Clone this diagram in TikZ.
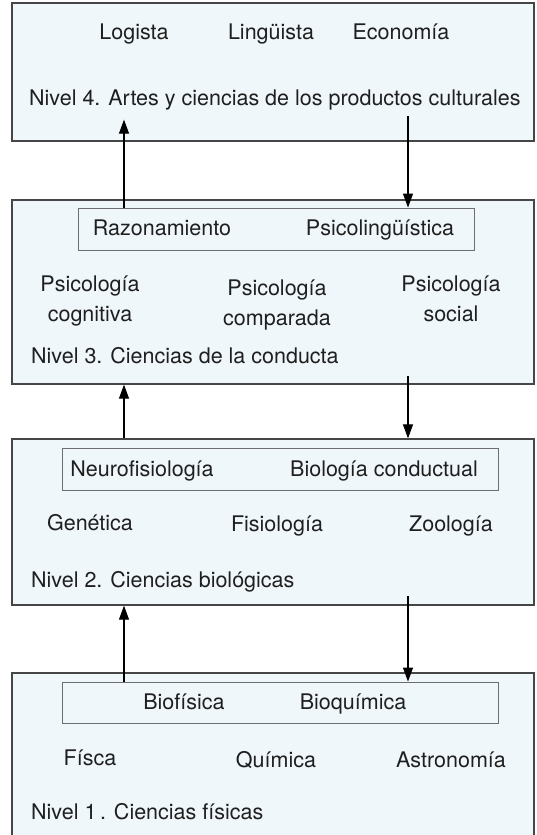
\documentclass[tikz,border=0pt]{standalone}
\usepackage{fontspec}
\setmainfont{TeX Gyre Heros}
\usetikzlibrary{arrows.meta,calc}
\definecolor{boxfill}{RGB}{239,247,251}
\definecolor{boxline}{RGB}{70,70,70}
\definecolor{innerline}{RGB}{110,110,110}
\begin{document}
\begin{tikzpicture}[x=1pt,y=-1pt,
  outer/.style={draw=boxline,line width=1.3pt,fill=boxfill,inner sep=0pt,anchor=center},
  inner/.style={draw=innerline,line width=0.9pt,inner sep=0pt,anchor=center},
  lbl/.style={anchor=base,inner sep=0pt,font=\fontsize{21.5}{30}\selectfont,text=black!88,align=center},
  lvl/.style={anchor=base west,inner sep=0pt,font=\fontsize{21.5}{30}\selectfont,text=black!88},
  arr/.style={line width=1.1pt,-{Triangle[length=14pt,width=10pt]}}]
\useasboundingbox (0,0) rectangle (537,835);
% outer boxes
\node[outer,minimum width=522pt,minimum height=138pt] (L4) at (273,72) {};
\node[outer,minimum width=522pt,minimum height=184pt] (L3) at (273,292) {};
\node[outer,minimum width=522pt,minimum height=166pt] (L2) at (273,522) {};
\node[outer,minimum width=522pt,minimum height=180pt] (L1) at (273,763) {};
% inner boxes
\node[inner,minimum width=396pt,minimum height=42pt] (I3) at (276,229) {};
\node[inner,minimum width=436pt,minimum height=42pt] (I2) at (280,469) {};
\node[inner,minimum width=436pt,minimum height=41pt] (I1) at (280,702.5) {};
% level 4
\node[lbl] (log) at (134,39) {Logista};
\node[lbl] (lin) at (271,39) {Lingüista};
\node[lbl] (eco) at (401,39) {Economía};
\node[lvl] (n4) at (29,105) {Nivel 4. Artes y ciencias de los productos culturales};
% level 3
\node[lbl] (raz) at (162,235) {Razonamiento};
\node[lbl] (pl) at (380,235) {Psicolingüística};
\node[lbl] (pcog) at (90,321) {Psicología\\cognitiva};
\node[lbl] (pcom) at (277,325) {Psicología\\comparada};
\node[lbl] (psoc) at (451,321) {Psicología\\social};
\node[lvl] (n3) at (31,363) {Nivel 3. Ciencias de la conducta};
% level 2
\node[lbl] (neu) at (142,476) {Neurofisiología};
\node[lbl] (bio) at (384,476) {Biología conductual};
\node[lbl] (gen) at (90,530) {Genética};
\node[lbl] (fis) at (277,531) {Fisiología};
\node[lbl] (zoo) at (451,531) {Zoología};
\node[lvl] (n2) at (31,587) {Nivel 2. Ciencias biológicas};
% level 1
\node[lbl] (bf) at (184,709) {Biofísica};
\node[lbl] (bq) at (353,709) {Bioquímica};
\node[lbl] (fsc) at (90,765) {Físca};
\node[lbl] (qui) at (276,767) {Química};
\node[lbl] (ast) at (451,767) {Astronomía};
\node[lvl] (n1) at (31,819) {Nivel 1\,. Ciencias físicas};
% guides
\coordinate (xl) at (124,0);
\coordinate (xr) at (408,0);
% arrows
\draw[arr] (I3.north -| xl) -- ($(L4.south -| xl)+(0,-22)$);
\draw[arr] ($(L4.south -| xr)+(0,-26)$) -- (I3.north -| xr);
\draw[arr] (L2.north -| xl) -- (L3.south -| xl);
\draw[arr] ($(L3.south -| xr)+(0,-9)$) -- (L2.north -| xr);
\draw[arr] (I1.north -| xl) -- (L2.south -| xl);
\draw[arr] ($(L2.south -| xr)+(0,-10)$) -- (I1.north -| xr);
\end{tikzpicture}
\end{document}
